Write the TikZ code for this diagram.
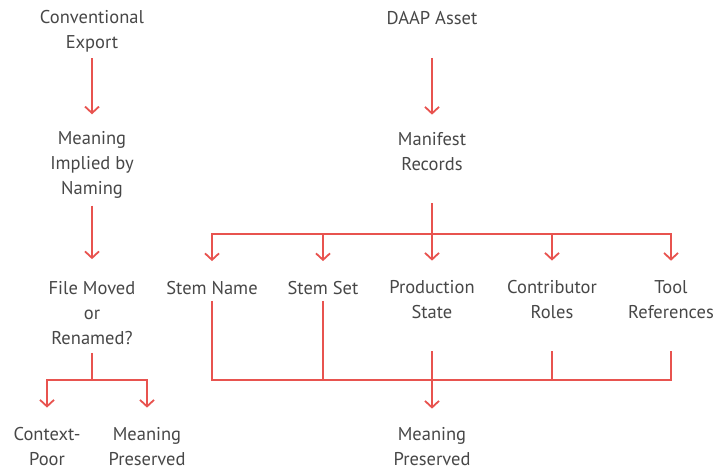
\documentclass[tikz,border=0pt]{standalone}
\usepackage{fontspec}
\setmainfont{PT Sans}
\usepackage{xcolor}
\usetikzlibrary{arrows.meta, positioning}

\definecolor{flowred}{HTML}{E8534F}
\definecolor{textgray}{HTML}{474747}

\begin{document}
\begin{tikzpicture}[
    x=1pt, y=-1pt,
    term/.style={align=center, inner sep=0pt, text=textgray, font=\fontsize{18.5}{25}\selectfont},
    link/.style={flowred, line width=1.8pt},
    arrow/.style={link, -{Straight Barb[length=6.5pt, width=14pt, line width=1.8pt]}}
]
\useasboundingbox (0,0) rectangle (725,470);

% Nodes - left chain
\node[term] (export) at (92,31) {Conventional\\Export};
\node[term] (implied) at (92,165) {Meaning\\Implied by\\Naming};
\node[term] (moved) at (92,313) {File Moved\\or\\Renamed?};
\node[term] (poor) at (47,447) {Context-\\Poor};
\node[term] (kept) at (147,447) {Meaning\\Preserved};

% Nodes - right chain
\node[term] (asset) at (432,18) {DAAP Asset};
\node[term] (manifest) at (432,152) {Manifest\\Records};
\node[term] (stemname) at (212,288) {Stem Name};
\node[term] (stemset) at (323,288) {Stem Set};
\node[term] (state) at (432,300) {Production\\State};
\node[term] (roles) at (552,300) {Contributor\\Roles};
\node[term] (tools) at (671,300) {Tool\\References};
\node[term] (meaning) at (432,447) {Meaning\\Preserved};

% Junctions
\coordinate (split) at (92,380);
\coordinate (fan) at (432,234);
\coordinate (merge) at (432,380);

% Arrows - left
\draw[arrow, shorten <=6pt, shorten >=17pt] (export) -- (implied);
\draw[arrow, shorten <=7pt, shorten >=22pt] (implied) -- (moved);
\draw[link, shorten <=8pt] (moved) -- (split);
\draw[arrow, shorten >=20pt] (split) -| (poor);
\draw[arrow, shorten >=20pt] (split) -| (kept);

% Arrows - right
\draw[arrow, shorten <=33pt, shorten >=18pt] (asset) -- (manifest);
\draw[link, shorten <=32pt] (manifest) -- (fan);
\draw[arrow, shorten >=20pt] (fan) -| (stemname);
\draw[arrow, shorten >=20pt] (fan) -| (stemset);
\draw[arrow, shorten >=20pt] (fan) -- (state);
\draw[arrow, shorten >=20pt] (fan) -| (roles);
\draw[arrow, shorten >=20pt] (fan) -| (tools);
\draw[link, shorten <=6pt] (stemname) |- (merge);
\draw[link, shorten <=6pt] (stemset) |- (merge);
\draw[link, shorten <=32pt] (roles) |- (merge);
\draw[link, shorten <=32pt] (tools) |- (merge);
\draw[arrow, shorten <=32pt, shorten >=19pt] (state) -- (meaning);

\end{tikzpicture}
\end{document}
